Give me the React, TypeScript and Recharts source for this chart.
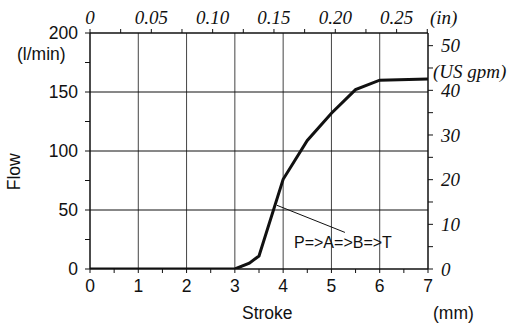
import React from "react";
import { LineChart, Line, XAxis, YAxis, ReferenceLine } from "recharts";

const strokeMm = [0, 3, 3.3, 3.5, 4, 4.5, 5, 5.5, 6, 7];
const flowLpm = [0, 0, 5, 11, 76, 109, 132, 152, 160, 161];

const mmTicks = [0, 0.5, 1, 1.5, 2, 2.5, 3, 3.5, 4, 4.5, 5, 5.5, 6, 6.5, 7];
const mmLabeled = [0, 1, 2, 3, 4, 5, 6, 7];
const inchTicks = [0, 0.025, 0.05, 0.075, 0.1, 0.125, 0.15, 0.175, 0.2, 0.225, 0.25, 0.275];
const inchLabeled = [0, 0.05, 0.1, 0.15, 0.2, 0.25];
const inchLabels = ["0", "0.05", "0.10", "0.15", "0.20", "0.25"];
const lpmTicks = [0, 25, 50, 75, 100, 125, 150, 175, 200];
const lpmLabeled = [0, 50, 100, 150, 200];
const gpmTicks = [0, 5, 10, 15, 20, 25, 30, 35, 40, 45, 50];
const gpmLabeled = [0, 10, 20, 30, 40, 50];
const gridMm = [1, 2, 3, 4, 5, 6];
const gridLpm = [50, 100, 150];

const MM_PER_IN = 25.4;
const LPM_PER_GPM = 3.78541;

const data = strokeMm.map((s, i) => ({ stroke: s, flow: flowLpm[i] }));
// top axis shares the mm scale, ticks placed at inch marks
const inchTicksMm = inchTicks.map((t) => t * MM_PER_IN);

const SANS = '"Liberation Sans", Arial, sans-serif';
const SERIF = '"Liberation Serif", "Times New Roman", serif';
const near = (a: number, b: number) => Math.abs(a - b) < 1e-6;

const BottomTick = (p: any) => {
  const v = p.payload.value;
  if (!mmLabeled.some((m) => near(m, v))) return <g />;
  return (
    <text x={p.x} y={p.y} dy="0.71em" textAnchor="middle" fontFamily={SANS} fontSize={17.5} fill="#111">
      {v}
    </text>
  );
};

const TopTick = (p: any) => {
  const v = p.payload.value / MM_PER_IN;
  const i = inchLabeled.findIndex((m) => near(m, v));
  if (i < 0) return <g />;
  return (
    <text x={p.x} y={p.y} textAnchor="middle" fontFamily={SERIF} fontStyle="italic" fontSize={19} fill="#111">
      {inchLabels[i]}
    </text>
  );
};

const LeftTick = (p: any) => {
  const v = p.payload.value;
  if (!lpmLabeled.some((m) => near(m, v))) return <g />;
  return (
    <text x={p.x} y={p.y} dy="0.355em" textAnchor="end" fontFamily={SANS} fontSize={17.5} fill="#111">
      {v}
    </text>
  );
};

const RightTick = (p: any) => {
  const v = p.payload.value;
  if (!gpmLabeled.some((m) => near(m, v))) return <g />;
  return (
    <text x={p.x} y={p.y} dy="0.355em" textAnchor="start" fontFamily={SERIF} fontStyle="italic" fontSize={19} fill="#111">
      {v}
    </text>
  );
};

const txt = (extra: React.CSSProperties): React.CSSProperties => ({
  position: "absolute",
  whiteSpace: "nowrap",
  lineHeight: 1,
  color: "#111",
  ...extra,
});

export default function App() {
  return (
    <div style={{ position: "absolute", left: 0, top: 0, width: 512, height: 326, background: "#fff", overflow: "hidden" }}>
      <LineChart width={512} height={326} data={data} margin={{ top: 3, right: 24, bottom: 27, left: 30 }}>
        <XAxis
          xAxisId="mm"
          dataKey="stroke"
          type="number"
          domain={[0, 7]}
          ticks={mmTicks}
          interval={0}
          height={30}
          tickSize={4}
          tickMargin={7}
          tick={BottomTick}
          axisLine={{ stroke: "#111", strokeWidth: 1.5 }}
          tickLine={{ stroke: "#111" }}
          allowDataOverflow
        />
        <XAxis
          xAxisId="in"
          dataKey="stroke"
          orientation="top"
          type="number"
          domain={[0, 7]}
          ticks={inchTicksMm}
          interval={0}
          height={30}
          tickSize={4}
          tickMargin={5}
          tick={TopTick}
          axisLine={{ stroke: "#111", strokeWidth: 1.5 }}
          tickLine={{ stroke: "#111" }}
          allowDataOverflow
        />
        <YAxis
          yAxisId="lpm"
          type="number"
          domain={[0, 200]}
          ticks={lpmTicks}
          interval={0}
          width={60}
          tickSize={5}
          tickMargin={7}
          tick={LeftTick}
          axisLine={{ stroke: "#111", strokeWidth: 1.5 }}
          tickLine={{ stroke: "#111" }}
          allowDataOverflow
        />
        <YAxis
          yAxisId="gpm"
          orientation="right"
          type="number"
          domain={[0, 200 / LPM_PER_GPM]}
          ticks={gpmTicks}
          interval={0}
          width={60}
          tickSize={5}
          tickMargin={8}
          tick={RightTick}
          axisLine={{ stroke: "#111", strokeWidth: 1.5 }}
          tickLine={{ stroke: "#111" }}
          allowDataOverflow
        />
        {gridMm.map((m) => (
          <ReferenceLine key={"v" + m} xAxisId="mm" yAxisId="lpm" x={m} stroke="#444" strokeWidth={1} />
        ))}
        {gridLpm.map((f) => (
          <ReferenceLine key={"h" + f} xAxisId="mm" yAxisId="lpm" y={f} stroke="#111" strokeWidth={1} />
        ))}
        <ReferenceLine
          xAxisId="mm"
          yAxisId="lpm"
          segment={[
            { x: 3.87, y: 54 },
            { x: 5.28, y: 31 },
          ]}
          stroke="#111"
          strokeWidth={1}
        />
        <Line
          xAxisId="mm"
          yAxisId="lpm"
          type="linear"
          dataKey="flow"
          stroke="#111"
          strokeWidth={3}
          dot={false}
          isAnimationActive={false}
        />
      </LineChart>
      <div style={txt({ left: 17, top: 46, fontFamily: SANS, fontSize: 17.5 })}>(l/min)</div>
      <div style={txt({ left: -5, top: 163, width: 40, textAlign: "center", fontFamily: SANS, fontSize: 17.5, transform: "rotate(-90deg)" })}>Flow</div>
      <div style={txt({ left: 242, top: 305, fontFamily: SANS, fontSize: 17.5 })}>Stroke</div>
      <div style={txt({ left: 433, top: 305, fontFamily: SANS, fontSize: 17.5 })}>(mm)</div>
      <div style={txt({ left: 430, top: 8, fontFamily: SERIF, fontStyle: "italic", fontSize: 19 })}>(in)</div>
      <div style={txt({ left: 433, top: 62, fontFamily: SERIF, fontStyle: "italic", fontSize: 19 })}>(US gpm)</div>
      <div style={txt({ left: 294, top: 235, fontFamily: SANS, fontSize: 16 })}>P=&gt;A=&gt;B=&gt;T</div>
    </div>
  );
}
